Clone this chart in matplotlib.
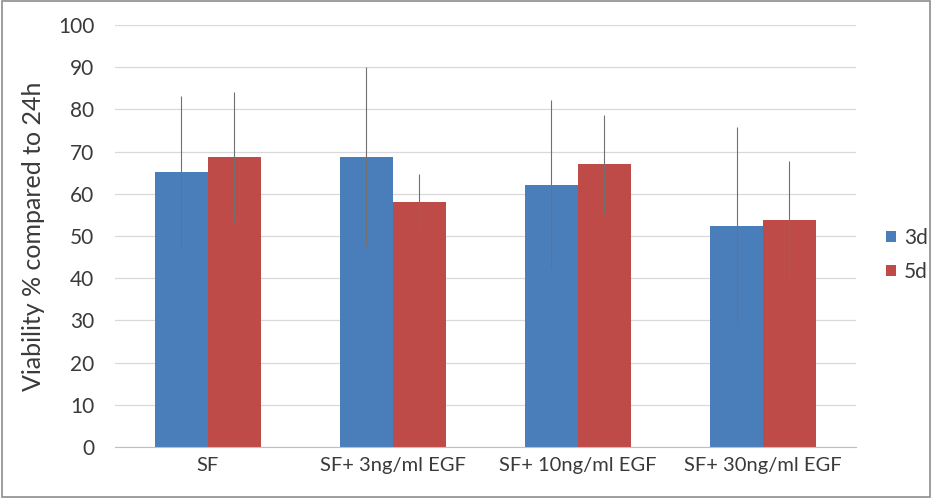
import matplotlib
matplotlib.use("Agg")
import matplotlib.pyplot as plt
import numpy as np
from matplotlib.patches import Rectangle

categories = ["SF", "SF+ 3ng/ml EGF", "SF+ 10ng/ml EGF", "SF+ 30ng/ml EGF"]
series_names = ["3d", "5d"]
vals_3d = [65.2, 68.7, 62.1, 52.4]
vals_5d = [68.7, 58.0, 67.0, 53.8]
err_3d = [18.0, 21.3, 20.0, 23.5]
err_5d = [15.3, 6.7, 11.7, 14.0]

plt.rcParams['font.family'] = ['Lato', 'DejaVu Sans']

fig = plt.figure(figsize=(9.32, 4.98), dpi=100)
ax = fig.add_axes([0.1234, 0.1024, 0.7946, 0.8476])

x = np.arange(len(categories))
w = 0.286
blue = "#4a7ebb"
red = "#be4b48"
ax.bar(x - w / 2, vals_3d, w, color=blue, label=series_names[0], zorder=2)
ax.bar(x + w / 2, vals_5d, w, color=red, label=series_names[1], zorder=2)
ax.errorbar(x - w / 2, vals_3d, yerr=err_3d, fmt="none", ecolor="#707070",
            elinewidth=0.8, capsize=0, zorder=3)
ax.errorbar(x + w / 2, vals_5d, yerr=err_5d, fmt="none", ecolor="#707070",
            elinewidth=0.8, capsize=0, zorder=3)

ax.set_xlim(-0.5, len(categories) - 0.5)
ax.set_ylim(0, 100)
ax.set_yticks(range(0, 101, 10))
ax.set_xticks(x)
ax.set_xticklabels(categories, fontsize=14.5, color="#3a3a3a")
ax.tick_params(axis="y", labelsize=15, colors="#3a3a3a", length=0, pad=15)
ax.tick_params(axis="x", length=0, pad=7)
ax.grid(axis="y", color="#d9d9d9", linewidth=0.9, zorder=0)
for s in ["top", "right", "left"]:
    ax.spines[s].set_visible(False)
ax.spines["bottom"].set_color("#bfbfbf")
ax.set_ylabel("Viability % compared to 24h", fontsize=18, color="#3a3a3a", labelpad=9)

ax.legend(loc="center left", bbox_to_anchor=(1.03, 0.455), frameon=False,
          fontsize=15, handlelength=0.45, handleheight=0.45, handletextpad=0.4,
          labelspacing=0.65, labelcolor="#3a3a3a", borderaxespad=0)

fig.patches.append(Rectangle((0.002, 0.003), 0.996, 0.994, transform=fig.transFigure,
                             fill=False, edgecolor="#8c8c8c", linewidth=1.2))

fig.savefig("out.png", dpi=100)
